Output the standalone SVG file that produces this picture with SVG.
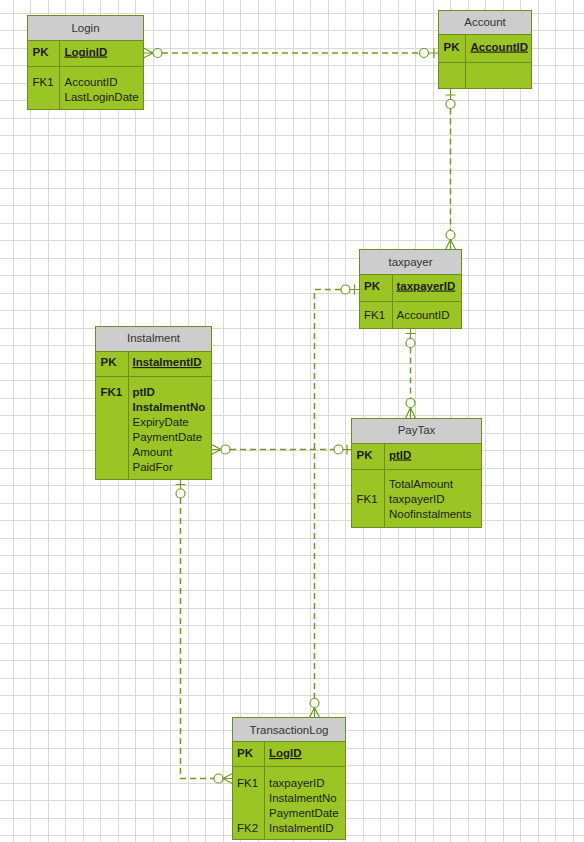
<svg xmlns="http://www.w3.org/2000/svg" width="584" height="842" viewBox="0 0 584 842">
<style>
.grid{fill:none;stroke:#d9d9d9;stroke-width:1}
.body{fill:#9ac525;stroke:#6b8e1f;stroke-width:1}
.head{fill:#cdcdcd;stroke:#6b8e1f;stroke-width:1}
.sep{stroke:#6b8e1f;stroke-width:1;fill:none}
text{font-family:"Liberation Sans",Arial,sans-serif;font-size:11.5px;fill:#1e1e1e}
.ht{text-anchor:middle;fill:#333}
.b{font-weight:bold}
.u{text-decoration:underline}
.dash{fill:none;stroke:#6f9a22;stroke-width:1.5;stroke-dasharray:6 4}
.solid{fill:none;stroke:#6f9a22;stroke-width:1.2}
.circ{fill:#fff;stroke:#6f9a22;stroke-width:1.2}
</style>
<rect width="584" height="842" fill="#fff"/>
<path class="grid" d="M13.5 0V842M30.5 0V842M48.5 0V842M65.5 0V842M83.5 0V842M100.5 0V842M118.5 0V842M135.5 0V842M153.5 0V842M170.5 0V842M188.5 0V842M205.5 0V842M223.5 0V842M240.5 0V842M258.5 0V842M275.5 0V842M293.5 0V842M310.5 0V842M328.5 0V842M345.5 0V842M363.5 0V842M380.5 0V842M398.5 0V842M415.5 0V842M433.5 0V842M450.5 0V842M468.5 0V842M485.5 0V842M503.5 0V842M520.5 0V842M538.5 0V842M555.5 0V842M573.5 0V842
M0 13.5H584M0 30.5H584M0 48.5H584M0 65.5H584M0 83.5H584M0 100.5H584M0 118.5H584M0 135.5H584M0 153.5H584M0 170.5H584M0 188.5H584M0 205.5H584M0 223.5H584M0 240.5H584M0 258.5H584M0 275.5H584M0 293.5H584M0 310.5H584M0 328.5H584M0 345.5H584M0 363.5H584M0 380.5H584M0 398.5H584M0 415.5H584M0 433.5H584M0 450.5H584M0 468.5H584M0 485.5H584M0 503.5H584M0 520.5H584M0 538.5H584M0 555.5H584M0 573.5H584M0 590.5H584M0 608.5H584M0 625.5H584M0 643.5H584M0 660.5H584M0 678.5H584M0 695.5H584M0 713.5H584M0 730.5H584M0 748.5H584M0 765.5H584M0 783.5H584M0 800.5H584M0 818.5H584M0 835.5H584"/>

<g id="connectors">
  <!-- Login - Account -->
  <path class="solid" d="M153 53L143.5 48M153 53H143.5M153 53L143.5 58"/>
  <line class="dash" x1="162" y1="53" x2="419.5" y2="53"/>
  <circle class="circ" cx="157.5" cy="53" r="4.5"/>
  <circle class="circ" cx="424" cy="53" r="4.5"/>
  <path class="solid" d="M428.5 53H438.5M434 48V58"/>
  <!-- Account - taxpayer -->
  <path class="solid" d="M450.5 88.5V99.5M445.5 95H455.5"/>
  <circle class="circ" cx="450.5" cy="104" r="4.5"/>
  <line class="dash" x1="450.5" y1="108.5" x2="450.5" y2="230.5"/>
  <circle class="circ" cx="450.5" cy="235" r="4.5"/>
  <path class="solid" d="M450.5 239.5L445.5 249.5M450.5 239.5V249.5M450.5 239.5L455.5 249.5"/>
  <!-- taxpayer - PayTax -->
  <path class="solid" d="M410.5 328.5V338.5M405.5 333.5H415.5"/>
  <circle class="circ" cx="410.5" cy="343" r="4.5"/>
  <line class="dash" x1="410.5" y1="347.5" x2="410.5" y2="398.5"/>
  <circle class="circ" cx="410.5" cy="403" r="4.5"/>
  <path class="solid" d="M410.5 407.5L405.5 418.5M410.5 407.5V418.5M410.5 407.5L415.5 418.5"/>
  <!-- Instalment - PayTax -->
  <path class="solid" d="M221 449.5L211.5 444.5M221 449.5H211.5M221 449.5L211.5 454.5"/>
  <line class="dash" x1="230" y1="449.5" x2="334" y2="449.5"/>
  <circle class="circ" cx="225.5" cy="449.5" r="4.5"/>
  <circle class="circ" cx="338.5" cy="449.5" r="4.5"/>
  <path class="solid" d="M343 449.5H351.5M347 444.5V454.5"/>
  <!-- Instalment - TransactionLog -->
  <path class="solid" d="M180.5 479.5V489M175.5 484.5H185.5"/>
  <circle class="circ" cx="180.5" cy="493.5" r="4.5"/>
  <path class="dash" d="M180.5 498V778.5H214"/>
  <circle class="circ" cx="218.5" cy="778.5" r="4.5"/>
  <path class="solid" d="M223 778.5L232.5 773.5M223 778.5H232.5M223 778.5L232.5 783.5"/>
  <!-- taxpayer - TransactionLog -->
  <path class="solid" d="M359.5 289.5H350M354.5 284.5V294.5"/>
  <circle class="circ" cx="345.5" cy="289.5" r="4.5"/>
  <path class="dash" d="M341 289.5H314.5V698.5"/>
  <circle class="circ" cx="314.5" cy="703" r="4.5"/>
  <path class="solid" d="M314.5 707.5L309.5 717.5M314.5 707.5V717.5M314.5 707.5L319.5 717.5"/>
</g>

<g id="login">
  <rect class="body" x="27.5" y="15.5" width="116" height="94"/>
  <rect class="head" x="27.5" y="15.5" width="116" height="25"/>
  <path class="sep" d="M27.5 66.5H143.5M59.5 40.5V109.5"/>
  <text class="ht" x="85.5" y="31.5">Login</text>
  <text class="b" x="32.5" y="55.5">PK</text>
  <text class="b u" x="64.5" y="55.5">LoginID</text>
  <text x="32.5" y="85.5">FK1</text>
  <text x="64.5" y="85.5">AccountID</text>
  <text x="64.5" y="100.5">LastLoginDate</text>
</g>

<g id="account">
  <rect class="body" x="438.5" y="10.5" width="93" height="78"/>
  <rect class="head" x="438.5" y="10.5" width="93" height="24"/>
  <path class="sep" d="M438.5 62.5H531.5M465.5 34.5V88.5"/>
  <text class="ht" x="485" y="26">Account</text>
  <text class="b" x="443.5" y="50.5">PK</text>
  <text class="b u" x="470.5" y="50.5">AccountID</text>
</g>

<g id="taxpayer">
  <rect class="body" x="359.5" y="249.5" width="102" height="79"/>
  <rect class="head" x="359.5" y="249.5" width="102" height="25"/>
  <path class="sep" d="M359.5 301.5H461.5M392.5 274.5V328.5"/>
  <text class="ht" x="410.5" y="265.5">taxpayer</text>
  <text class="b" x="364" y="289.5">PK</text>
  <text class="b u" x="396.5" y="289.5">taxpayerID</text>
  <text x="364" y="318.5">FK1</text>
  <text x="396.5" y="318.5">AccountID</text>
</g>

<g id="instalment">
  <rect class="body" x="95.5" y="326.5" width="116" height="153"/>
  <rect class="head" x="95.5" y="326.5" width="116" height="25"/>
  <path class="sep" d="M95.5 376.5H211.5M128.5 351.5V479.5"/>
  <text class="ht" x="153.5" y="341.5">Instalment</text>
  <text class="b" x="100.5" y="366">PK</text>
  <text class="b u" x="132.5" y="366">InstalmentID</text>
  <text class="b" x="100.5" y="395.5">FK1</text>
  <text class="b" x="132.5" y="395.5">ptID</text>
  <text class="b" x="132.5" y="410.5">InstalmentNo</text>
  <text x="132.5" y="425.5">ExpiryDate</text>
  <text x="132.5" y="440.5">PaymentDate</text>
  <text x="132.5" y="455.5">Amount</text>
  <text x="132.5" y="470.5">PaidFor</text>
</g>

<g id="paytax">
  <rect class="body" x="351.5" y="418.5" width="130" height="109"/>
  <rect class="head" x="351.5" y="418.5" width="130" height="25"/>
  <path class="sep" d="M351.5 469.5H481.5M384.5 443.5V527.5"/>
  <text class="ht" x="416.5" y="434">PayTax</text>
  <text class="b" x="356.5" y="458.5">PK</text>
  <text class="b u" x="389" y="458.5">ptID</text>
  <text x="356.5" y="503">FK1</text>
  <text x="389" y="488">TotalAmount</text>
  <text x="389" y="503">taxpayerID</text>
  <text x="389" y="518">Noofinstalments</text>
</g>

<g id="transactionlog">
  <rect class="body" x="232.5" y="717.5" width="113" height="122"/>
  <rect class="head" x="232.5" y="717.5" width="113" height="24"/>
  <path class="sep" d="M232.5 766.5H345.5M264.5 741.5V839.5"/>
  <text class="ht" x="289" y="733.5">TransactionLog</text>
  <text class="b" x="237" y="757">PK</text>
  <text class="b u" x="269" y="757">LogID</text>
  <text x="237" y="786.5">FK1</text>
  <text x="269" y="786.5">taxpayerID</text>
  <text x="269" y="801.5">InstalmentNo</text>
  <text x="269" y="816.5">PaymentDate</text>
  <text x="237" y="831.5">FK2</text>
  <text x="269" y="831.5">InstalmentID</text>
</g>
</svg>
